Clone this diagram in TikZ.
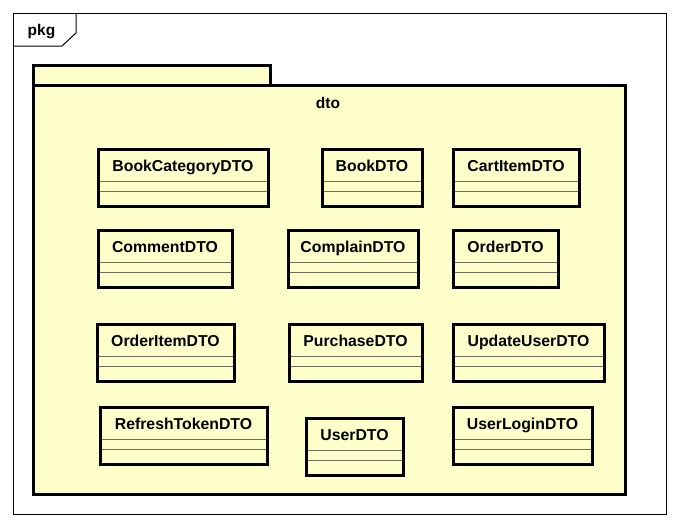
\documentclass[tikz,border=0pt]{standalone}
\usepackage{fontspec}
\setmainfont{Liberation Sans}
\usetikzlibrary{calc}
\definecolor{pkgfill}{RGB}{255,255,204}
\definecolor{sepline}{RGB}{110,110,90}
\tikzset{
  frameline/.style={draw=black, line width=1pt},
  pkgline/.style={draw=black, line width=3pt, fill=pkgfill},
  classbox/.style={draw=black, line width=3pt, fill=pkgfill, rectangle, inner sep=0pt, outer sep=0pt, minimum height=57pt, anchor=north west},
  classname/.style={font=\fontsize{15.8}{18}\selectfont\bfseries, inner sep=0pt, anchor=base},
  sepstyle/.style={draw=sepline, line width=0.9pt},
  lbl/.style={font=\fontsize{15.5}{18}\selectfont\bfseries, inner sep=0pt, anchor=base}
}
\newcommand{\dtoclass}[5]{%
  \node[classbox, minimum width=#4pt] (#1) at (#2,#3) {};
  \node[classname] (#1-name) at ($(#1.north)+(0,22)$) {#5};
  \draw[sepstyle] ($(#1.north west)+(1.5,32)$) -- ($(#1.north east)+(-1.5,32)$);
  \draw[sepstyle] ($(#1.north west)+(1.5,42)$) -- ($(#1.north east)+(-1.5,42)$);
}
\begin{document}
\begin{tikzpicture}[x=1pt, y=-1pt]
\useasboundingbox (0,0) rectangle (681,528);
\fill[white] (0,0) rectangle (681,528);
% outer frame
\draw[frameline] (13,13) rectangle (666,514);
\coordinate (tabA) at (76,13);
\coordinate (tabB) at (76,33);
\coordinate (tabC) at (62,46);
\coordinate (tabD) at (13,46);
\draw[frameline] (tabA) -- (tabB) -- (tabC) -- (tabD);
\node[lbl] (pkglabel) at (41.5,35.5) {pkg};
% package
\draw[pkgline] (33,65) rectangle (270,85);
\draw[pkgline] (33,85) rectangle (625,494);
\node[lbl] (dtolabel) at (328,108.5) {dto};
% classes
\dtoclass{bookcat}{98}{149}{170}{BookCategoryDTO}
\dtoclass{book}{322}{149}{100}{BookDTO}
\dtoclass{cartitem}{453}{149}{126}{CartItemDTO}
\dtoclass{comment}{98}{230}{134}{CommentDTO}
\dtoclass{complain}{288}{230}{130}{ComplainDTO}
\dtoclass{order}{453}{230}{105}{OrderDTO}
\dtoclass{orderitem}{97}{324}{137}{OrderItemDTO}
\dtoclass{purchase}{289}{324}{133}{PurchaseDTO}
\dtoclass{updateuser}{453}{324}{151}{UpdateUserDTO}
\dtoclass{refresh}{100}{407}{167}{RefreshTokenDTO}
\dtoclass{user}{306}{418}{97}{UserDTO}
\dtoclass{userlogin}{453}{407}{139}{UserLoginDTO}
\end{tikzpicture}
\end{document}
